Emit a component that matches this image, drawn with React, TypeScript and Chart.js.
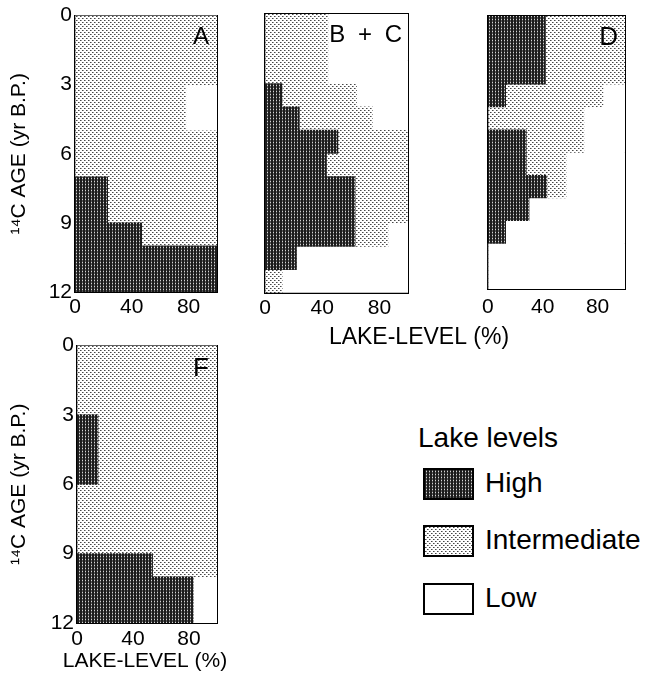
import React, { useEffect, useMemo, useRef } from 'react';
import { Chart, registerables } from 'chart.js';

Chart.register(...registerables);

const FONT = '"Liberation Sans", Arial, Helvetica, sans-serif';

// centre of each 1-kyr age bin (14C kyr B.P.)
const AGE_BINS = [0.5, 1.5, 2.5, 3.5, 4.5, 5.5, 6.5, 7.5, 8.5, 9.5, 10.5, 11.5];
const AGE_TICKS = [0, 3, 6, 9, 12];
const LEVEL_TICKS = [0, 40, 80];
const CLASS_NAMES = ['High', 'Intermediate', 'Low'];

// percentage of sites in each lake-level class, per age bin
const A_HIGH = [0, 0, 0, 0, 0, 0, 0, 23, 23, 47, 100, 100];
const A_INTER = [100, 100, 100, 78, 78, 100, 100, 77, 77, 53, 0, 0];
const A_LOW = [0, 0, 0, 22, 22, 0, 0, 0, 0, 0, 0, 0];

const BC_HIGH = [0, 0, 0, 12, 24, 51, 43, 63, 63, 63, 22, 0];
const BC_INTER = [44, 44, 44, 52, 51, 49, 57, 37, 37, 23, 0, 12];
const BC_LOW = [56, 56, 56, 36, 25, 0, 0, 0, 0, 14, 78, 88];

const D_HIGH = [42, 42, 42, 13, 0, 28, 28, 43, 30, 13, 0, 0];
const D_INTER = [58, 58, 58, 71, 70, 42, 29, 14, 0, 0, 0, 0];
const D_LOW = [0, 0, 0, 16, 30, 30, 43, 43, 70, 87, 100, 100];

const F_HIGH = [0, 0, 0, 15, 15, 15, 0, 0, 0, 54, 83, 83];
const F_INTER = [100, 100, 100, 85, 85, 85, 100, 100, 100, 46, 0, 0];
const F_LOW = [0, 0, 0, 0, 0, 0, 0, 0, 0, 0, 17, 17];

const Y_TITLE = '¹⁴C AGE (yr B.P.)';
const X_TITLE = 'LAKE-LEVEL (%)';
const LEGEND_TITLE = 'Lake levels';

type Kind = 'high' | 'inter' | 'low';

function makeTile(kind: Kind): HTMLCanvasElement {
  const c = document.createElement('canvas');
  if (kind === 'high') {
    c.width = 3; c.height = 3;
    const ctx = c.getContext('2d')!;
    ctx.fillStyle = '#1c1c1c'; ctx.fillRect(0, 0, 3, 3);
    ctx.fillStyle = '#585858'; ctx.fillRect(1, 0, 1, 3);
    ctx.fillStyle = '#d4d4d4'; ctx.fillRect(1, 1, 1, 1);
  } else if (kind === 'inter') {
    c.width = 4; c.height = 4;
    const ctx = c.getContext('2d')!;
    ctx.fillStyle = '#ffffff'; ctx.fillRect(0, 0, 4, 4);
    ctx.fillStyle = '#9a9a9a'; ctx.fillRect(1, 0, 1, 1); ctx.fillRect(3, 2, 1, 1);
    ctx.fillStyle = '#474747'; ctx.fillRect(0, 0, 1, 1); ctx.fillRect(2, 2, 1, 1);
  } else {
    c.width = 1; c.height = 1;
    const ctx = c.getContext('2d')!;
    ctx.fillStyle = '#ffffff'; ctx.fillRect(0, 0, 1, 1);
  }
  return c;
}

type PanelLayout = {
  left: number; top: number; width: number; height: number;
  yW: number; y2W: number; padTop: number; xH: number; xTickPad: number;
  showY: boolean; chartTitle: boolean; titleSize: number; titlePad: { top: number; bottom: number };
  innerTicks: boolean;
  labelDx: number; labelBase: number; labelSize: number; labelSpacing: number;
};

type PanelSpec = { label: string; high: number[]; inter: number[]; low: number[]; layout: PanelLayout };

const PANELS: PanelSpec[] = [
  {
    label: 'A', high: A_HIGH, inter: A_INTER, low: A_LOW,
    layout: { left: 0, top: 0, width: 230, height: 330, yW: 75, y2W: 13, padTop: 14, xH: 38, xTickPad: 3,
      showY: true, chartTitle: false, titleSize: 21, titlePad: { top: 0, bottom: 0 }, innerTicks: false,
      labelDx: 8, labelBase: 28, labelSize: 24, labelSpacing: 0 },
  },
  {
    label: 'B + C', high: BC_HIGH, inter: BC_INTER, low: BC_LOW,
    layout: { left: 230, top: 0, width: 378, height: 356, yW: 35, y2W: 200, padTop: 14, xH: 30, xTickPad: 3,
      showY: false, chartTitle: true, titleSize: 23, titlePad: { top: 1, bottom: 4.6 }, innerTicks: false,
      labelDx: 3, labelBase: 28, labelSize: 24, labelSpacing: 3 },
  },
  {
    label: 'D', high: D_HIGH, inter: D_INTER, low: D_LOW,
    layout: { left: 470, top: 0, width: 178, height: 330, yW: 17, y2W: 23, padTop: 16, xH: 41, xTickPad: 12,
      showY: false, chartTitle: false, titleSize: 21, titlePad: { top: 0, bottom: 0 }, innerTicks: true,
      labelDx: 7, labelBase: 29, labelSize: 26, labelSpacing: 0 },
  },
  {
    label: 'F', high: F_HIGH, inter: F_INTER, low: F_LOW,
    layout: { left: 0, top: 330, width: 290, height: 349, yW: 77, y2W: 73, padTop: 15, xH: 25.8, xTickPad: 4,
      showY: true, chartTitle: true, titleSize: 21, titlePad: { top: 0, bottom: 5 }, innerTicks: false,
      labelDx: 8, labelBase: 30, labelSize: 26, labelSpacing: 0 },
  },
];

const panelLabelPlugin = {
  id: 'panelLabel',
  afterDraw(chart: any, _args: any, opts: any) {
    if (!opts || !opts.text) return;
    const { ctx, chartArea } = chart;
    ctx.save();
    ctx.font = `${opts.size}px ${FONT}`;
    ctx.fillStyle = '#000';
    ctx.textAlign = 'right';
    ctx.textBaseline = 'alphabetic';
    if ('letterSpacing' in ctx) (ctx as any).letterSpacing = `${opts.spacing || 0}px`;
    ctx.fillText(opts.text, chartArea.right - opts.dx, chartArea.top + opts.base);
    ctx.restore();
  },
};

const borderOpt = { display: true, color: '#000', width: 2 };

function Panel({ spec }: { spec: PanelSpec }) {
  const ref = useRef<HTMLCanvasElement>(null);
  const L = spec.layout;
  useEffect(() => {
    const canvas = ref.current!;
    const ctx = canvas.getContext('2d')!;
    const fills: any[] = [
      ctx.createPattern(makeTile('high'), 'repeat'),
      ctx.createPattern(makeTile('inter'), 'repeat'),
      '#ffffff',
    ];
    const values = [spec.high, spec.inter, spec.low];
    const tickFont = { size: 21, family: FONT, weight: 'normal' as const };
    const chart = new Chart(canvas, {
      type: 'bar',
      data: {
        labels: AGE_BINS,
        datasets: CLASS_NAMES.map((name, k) => ({
          label: name,
          data: values[k],
          backgroundColor: fills[k],
          borderWidth: 0,
          categoryPercentage: 1,
          barPercentage: 1,
          xAxisID: 'x',
          yAxisID: 'y',
        })),
      },
      options: {
        indexAxis: 'y',
        responsive: false,
        maintainAspectRatio: false,
        animation: false,
        devicePixelRatio: 1,
        events: [],
        layout: { padding: { top: L.padTop, left: 0, right: 0, bottom: 0 } },
        scales: {
          x: {
            type: 'linear', position: 'bottom', min: 0, max: 100, stacked: true, offset: false, z: 1,
            afterBuildTicks: (s: any) => { s.ticks = LEVEL_TICKS.map((v) => ({ value: v })); },
            afterFit: (s: any) => { s.height = L.xH; },
            grid: L.innerTicks
              ? { display: true, offset: false, drawOnChartArea: false, drawTicks: true, tickLength: -6, color: '#000', lineWidth: 1.5 }
              : { display: false, offset: false, drawTicks: false },
            border: borderOpt,
            ticks: { color: '#000', font: tickFont, padding: L.xTickPad, maxRotation: 0, autoSkip: false,
              callback: (v: any) => String(v) },
          },
          y: {
            type: 'linear', position: 'left', min: 0, max: 12, reverse: true, stacked: true, offset: false, z: 1,
            afterBuildTicks: (s: any) => { s.ticks = AGE_TICKS.map((v) => ({ value: v })); },
            afterFit: (s: any) => { s.width = L.yW; },
            grid: { display: false, offset: false, drawTicks: false },
            border: borderOpt,
            ticks: { display: L.showY, color: '#000', font: tickFont, padding: 3, autoSkip: false,
              callback: (v: any) => String(v) },
            title: { display: L.showY, text: Y_TITLE, color: '#000', font: tickFont, padding: { top: 7, bottom: 0 } },
          },
          xTop: {
            type: 'linear', position: 'top', display: true, z: 1,
            grid: { display: false, drawTicks: false }, ticks: { display: false }, border: borderOpt,
            afterFit: (s: any) => { s.height = 0; },
          },
          yRight: {
            type: 'linear', position: 'right', display: true, z: 1,
            grid: { display: false, drawTicks: false }, ticks: { display: false }, border: borderOpt,
            afterFit: (s: any) => { s.width = L.y2W; },
          },
        },
        plugins: {
          legend: { display: false },
          tooltip: { enabled: false },
          title: {
            display: L.chartTitle, text: X_TITLE, position: 'bottom', color: '#000',
            font: { size: L.titleSize, family: FONT, weight: 'normal' }, padding: L.titlePad,
          },
          panelLabel: { text: spec.label, dx: L.labelDx, base: L.labelBase, size: L.labelSize, spacing: L.labelSpacing },
        } as any,
      },
      plugins: [panelLabelPlugin],
    } as any);
    return () => chart.destroy();
  }, []);
  return (
    <canvas
      ref={ref}
      width={L.width}
      height={L.height}
      style={{ position: 'absolute', left: L.left, top: L.top, width: L.width, height: L.height, display: 'block' }}
    />
  );
}

function Legend() {
  const urls = useMemo(
    () => ({ high: makeTile('high').toDataURL(), inter: makeTile('inter').toDataURL() }),
    []
  );
  const backgrounds = [`url(${urls.high})`, `url(${urls.inter})`, 'none'];
  const boxTops = [468, 525, 583];
  const textStyle: React.CSSProperties = {
    position: 'absolute', fontFamily: FONT, fontSize: 28, lineHeight: '28px', color: '#000', whiteSpace: 'nowrap',
  };
  return (
    <>
      <div style={{ ...textStyle, left: 418, top: 424 }}>{LEGEND_TITLE}</div>
      {CLASS_NAMES.map((name, k) => (
        <React.Fragment key={name}>
          <div
            style={{
              position: 'absolute', left: 423, top: boxTops[k], width: 51, height: 32, boxSizing: 'border-box',
              border: '2px solid #000', backgroundColor: '#fff', backgroundImage: backgrounds[k],
              backgroundRepeat: 'repeat', imageRendering: 'pixelated',
            }}
          />
          <div style={{ ...textStyle, left: 485, top: boxTops[k] + 0.5 }}>{name}</div>
        </React.Fragment>
      ))}
    </>
  );
}

export default function App() {
  return (
    <div
      style={{
        position: 'absolute', left: 0, top: 0, width: 648, height: 679, background: '#fff',
        overflow: 'hidden', fontFamily: FONT,
      }}
    >
      {PANELS.map((p) => (
        <Panel key={p.label} spec={p} />
      ))}
      <Legend />
    </div>
  );
}
